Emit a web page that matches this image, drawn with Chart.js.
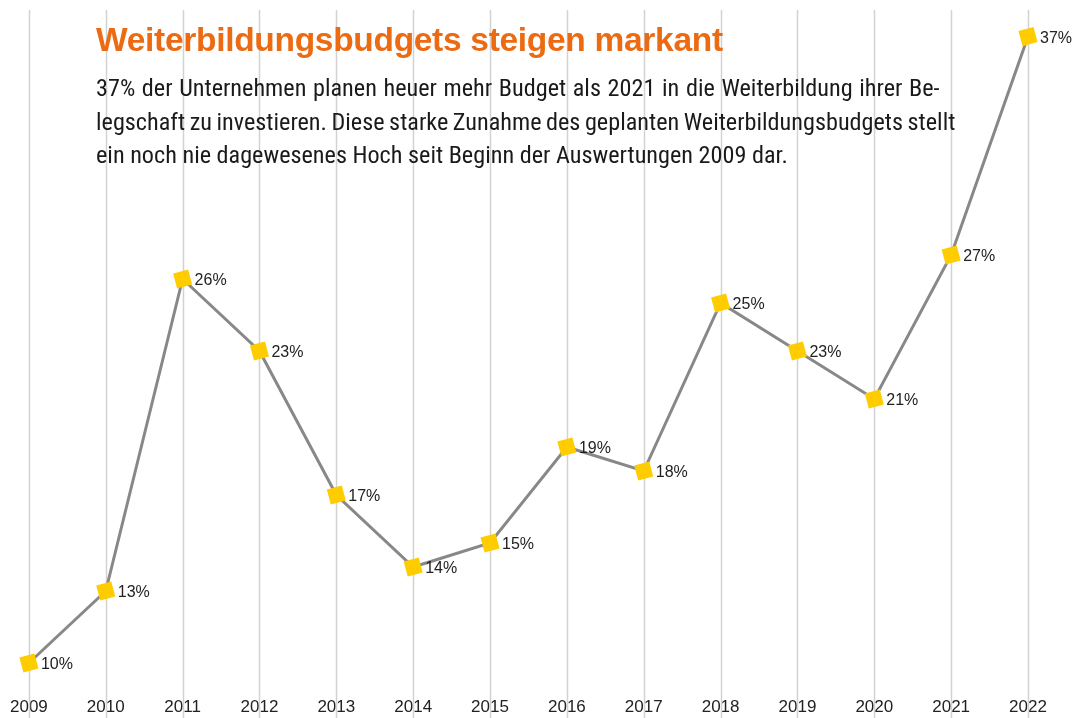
<!DOCTYPE html>
<html>
<head>
<meta charset="utf-8">
<script src="https://cdn.jsdelivr.net/npm/chart.js@4"></script>
<style>
  html, body { margin: 0; padding: 0; background: #fff; }
  #wrap { position: relative; width: 1074px; height: 718px; }
  #title { position: absolute; left: 96px; top: 20px; font-family: "Liberation Sans", Arial, sans-serif; font-weight: bold; font-size: 33.5px; line-height: 40px; color: #EC6A12; white-space: nowrap; letter-spacing: -0.3px; }
  #sub { position: absolute; left: 96px; top: 72px; font-family: "Roboto Condensed", "Liberation Sans Narrow", sans-serif; font-size: 24.2px; line-height: 33.5px; color: #1a1a1a; white-space: nowrap; }
  #sub span { display: block; }
  canvas { position: absolute; left: 0; top: 0; }
</style>
</head>
<body>
<div id="wrap">
  <canvas id="c" width="1074" height="718"></canvas>
  <div id="title">Weiterbildungsbudgets steigen markant</div>
  <div id="sub"><span style="word-spacing:1.1px">37% der Unternehmen planen heuer mehr Budget als 2021 in die Weiterbildung ihrer Be-</span><span style="word-spacing:-1px">legschaft zu investieren. Diese starke Zunahme des geplanten Weiterbildungsbudgets stellt</span><span>ein noch nie dagewesenes Hoch seit Beginn der Auswertungen 2009 dar.</span></div>
</div>
<script>
const years = ["2009","2010","2011","2012","2013","2014","2015","2016","2017","2018","2019","2020","2021","2022"];
const shares = [10, 13, 26, 23, 17, 14, 15, 19, 18, 25, 23, 21, 27, 36.1];
const valueLabels = ["10%","13%","26%","23%","17%","14%","15%","19%","18%","25%","23%","21%","27%","37%"];

const fullGrid = {
  id: 'fullGrid',
  beforeDatasetsDraw(chart) {
    const ctx = chart.ctx, xs = chart.scales.x;
    ctx.save();
    ctx.strokeStyle = '#d2d2d2';
    ctx.lineWidth = 1.5;
    years.forEach((y, i) => {
      const px = Math.round(xs.getPixelForValue(i)) + 0.5;
      ctx.beginPath();
      ctx.moveTo(px, 10);
      ctx.lineTo(px, chart.height);
      ctx.stroke();
    });
    ctx.restore();
  }
};
const valueText = {
  id: 'valueText',
  afterDatasetsDraw(chart) {
    const ctx = chart.ctx;
    const meta = chart.getDatasetMeta(0);
    ctx.save();
    ctx.font = '16px "Liberation Sans", Arial, sans-serif';
    ctx.fillStyle = '#222';
    ctx.textBaseline = 'middle';
    ctx.textAlign = 'left';
    meta.data.forEach((pt, i) => {
      ctx.fillText(valueLabels[i], pt.x + 12, pt.y + 2);
    });
    ctx.restore();
  }
};

new Chart(document.getElementById('c'), {
  type: 'line',
  data: {
    labels: years,
    datasets: [{
      data: shares,
      borderColor: '#888888',
      borderWidth: 3,
      tension: 0,
      pointStyle: 'rect',
      pointRotation: -15,
      pointRadius: 11,
      pointHoverRadius: 11,
      pointBackgroundColor: '#FFCC00',
      pointBorderWidth: 0,
      pointBorderColor: '#FFCC00'
    }]
  },
  options: {
    responsive: false,
    animation: false,
    events: [],
    layout: { padding: { left: 28, right: 46, top: 15, bottom: 0 } },
    plugins: { legend: { display: false }, tooltip: { enabled: false }, title: { display: false } },
    scales: {
      x: {
        offset: false,
        grid: { display: false, drawTicks: false },
        border: { display: false },
        afterFit(scale) { scale.height = 31; },
        ticks: { color: '#222', font: { family: '"Liberation Sans", Arial, sans-serif', size: 17 }, padding: 10, maxRotation: 0, autoSkip: false }
      },
      y: {
        display: false,
        min: 9,
        max: 37
      }
    }
  },
  plugins: [fullGrid, valueText]
});
</script>
</body>
</html>
